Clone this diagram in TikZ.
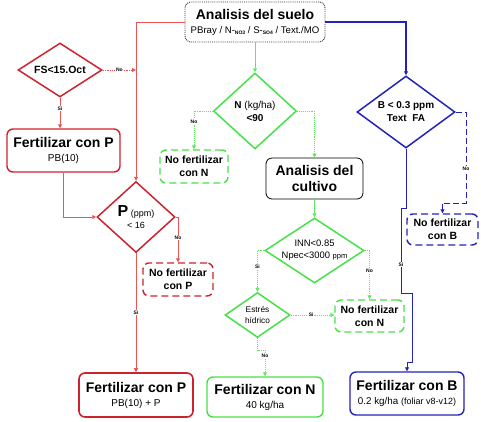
\documentclass[tikz,border=0pt]{standalone}
\usepackage{fontspec}
\setmainfont{Liberation Sans}
\usetikzlibrary{shapes.geometric,arrows.meta}
\definecolor{redB}{RGB}{205,35,45}
\definecolor{redL}{RGB}{232,85,85}
\definecolor{grnB}{RGB}{70,225,70}
\definecolor{grnL}{RGB}{95,232,95}
\definecolor{bluB}{RGB}{35,35,185}
\newcommand\ftitle{\fontsize{14}{16}\selectfont\bfseries}
\newcommand\fsubt{\fontsize{10}{11}\selectfont\mdseries}
\newcommand\fnobox{\fontsize{10.5}{13}\selectfont\bfseries}
\newcommand\flabx{\fontsize{5}{5}\selectfont\bfseries}
\begin{document}
\begin{tikzpicture}[x=1pt,y=-1pt,
  box/.style={rectangle,rounded corners=6pt,inner sep=0pt,align=center,line width=1.4pt},
  dbox/.style={box,dash pattern=on 7pt off 4pt,font=\fnobox},
  dia/.style={diamond,inner sep=0pt,line width=1.5pt},
  lab/.style={fill=white,inner sep=0.6pt,font=\flabx,text=black},
  arr/.style={-{Triangle[length=4pt,width=4pt]}},
  rline/.style={arr,draw=redL,line width=0.9pt},
  gline/.style={arr,draw=grnL,line width=0.9pt},
  bline/.style={arr,draw=bluB,line width=0.9pt},
  dotl/.style={densely dotted}]
\path[use as bounding box] (0,0) rectangle (481,421);

% nodes
\node[box,draw=black!80,line width=0.9pt,densely dotted,minimum width=140pt,minimum height=40pt,font=\ftitle] (suelo) at (255,22)
  {Analisis del suelo\\[-2pt]{\fontsize{9.6}{11}\selectfont\mdseries PBray / N-\raisebox{-1.5pt}{\fontsize{5}{5}\selectfont\bfseries NO3} / S-\raisebox{-1.5pt}{\fontsize{5}{5}\selectfont\bfseries SO4} / Text./MO}};

\node[dia,draw=redB,minimum width=84pt,minimum height=54pt,
  label={[font=\fontsize{10.5}{12}\selectfont\bfseries]center:FS<15.Oct}] (fs) at (60,70) {};
\node[box,draw=redB,minimum width=113pt,minimum height=43pt,font=\ftitle] (fertP1) at (63.5,150.5)
  {Fertilizar con P\\[-2pt]{\fsubt PB(10)}};
\node[dia,draw=redB,minimum width=78pt,minimum height=71pt,
  label={[align=center,font=\fontsize{9}{11}\selectfont]center:{{\fontsize{16}{16}\selectfont\bfseries P} (ppm)\\[1pt]< 16}}] (pdiam) at (136,217) {};
\node[dbox,draw=redB,minimum width=70pt,minimum height=33pt] (noP) at (178,279.5)
  {No fertilizar\\con P};
\node[box,draw=redB,line width=1.6pt,minimum width=114pt,minimum height=44pt,font=\ftitle] (fertP2) at (136,395)
  {Fertilizar con P\\[-2pt]{\fsubt PB(10) + P}};

\node[dia,draw=grnB,minimum width=83pt,minimum height=76pt,
  label={[align=center,font=\fontsize{10}{13}\selectfont]center:{{\bfseries N} (kg/ha)\\{\bfseries <90}}}] (ndiam) at (255,111) {};
\node[dbox,draw=grnB,minimum width=68pt,minimum height=33pt] (noN1) at (194,166.5)
  {No fertilizar\\con N};
\node[box,draw=black,line width=0.8pt,minimum width=97pt,minimum height=41pt,font=\ftitle] (cultivo) at (314.5,178.5)
  {Analisis del\\cultivo};
\node[dia,draw=grnB,minimum width=99pt,minimum height=65pt,
  label={[align=center,font=\fontsize{9.4}{12}\selectfont]center:{INN<0.85\\Npec<3000 {\fontsize{7.5}{9}\selectfont ppm}}}] (inn) at (314.5,250.5) {};
\node[dia,draw=grnB,minimum width=65pt,minimum height=45pt,
  label={[align=center,font=\fontsize{8.3}{11}\selectfont]center:{Estrés\\hídrico}}] (estres) at (257.5,315) {};
\node[dbox,draw=grnB,minimum width=69pt,minimum height=32pt] (noN2) at (369.5,316)
  {No fertilizar\\con N};
\node[box,draw=grnB,minimum width=116pt,minimum height=40pt,font=\ftitle] (fertN) at (265,397)
  {Fertilizar con N\\[-2pt]{\fsubt 40 kg/ha}};

\node[dia,draw=bluB,minimum width=98pt,minimum height=72pt,
  label={[align=center,font=\fontsize{10}{13}\selectfont\bfseries]center:{B < 0.3 ppm\\Text\ \ FA}}] (bdiam) at (406,112) {};
\node[dbox,draw=bluB,minimum width=71pt,minimum height=31pt] (noB) at (442.5,229.5)
  {No fertilizar\\con B};
\node[box,draw=bluB,minimum width=114pt,minimum height=43pt,font=\ftitle] (fertB) at (407,393.5)
  {Fertilizar con B\\[-2pt]{\fontsize{9.8}{11}\selectfont\mdseries 0.2 kg/ha {\fontsize{9}{10}\selectfont (foliar v8-v12)}}};

\coordinate (bno) at (466,203);

% red connectors
\draw[rline] (suelo.west) -| (pdiam.north);
\draw[rline,dotl] (fs.east) -- (fs.east -| pdiam.north) node[lab,pos=0.5] {No};
\draw[rline] (fs.south) -- (fs.south |- fertP1.north) node[lab,pos=0.35] {Si};
\draw[rline] (fertP1.south) |- (pdiam.west);
\draw[rline] (pdiam.east) -| (noP.north) node[lab,pos=0.73] {No};
\draw[rline] (pdiam.south) -- (pdiam.south |- fertP2.north) node[lab,pos=0.5] {Si};

% green connectors
\draw[gline] (suelo.south -| ndiam.north) -- (ndiam.north);
\draw[gline,dotl] (ndiam.west) -| (noN1.north) node[lab,pos=0.64] {No};
\draw[gline,dotl] (ndiam.east) -| (cultivo.north);
\draw[gline] (cultivo.south) -- (inn.north);
\draw[gline,dotl] (inn.west) -| (estres.north) node[lab,pos=0.7] {Si};
\draw[gline,dotl] (inn.east) -| (noN2.north) node[lab,pos=0.71] {No};
\draw[gline,dotl] (estres.east) -- (estres.east -| noN2.west) node[lab,pos=0.47] {Si};
\draw[gline,dotl] (estres.south) -- ++(0,12) -| (fertN.north) node[lab,pos=0.6] {No};

% blue connectors
\draw[bline,line width=1.3pt] (suelo.east) -| (bdiam.north);
\draw[bline,dash pattern=on 6pt off 3pt] (bdiam.east) -| (bno) node[lab,pos=0.81] {No} -| (noB.north);
\draw[bline,line width=0.8pt] (bdiam.south) -- ++(0,60) -- ++(-5,0) -- ++(0,85) node[lab,pos=0.66] {Si}
  -- ++(11,0) -- ++(0,69) -| (fertB.north);
\end{tikzpicture}
\end{document}
